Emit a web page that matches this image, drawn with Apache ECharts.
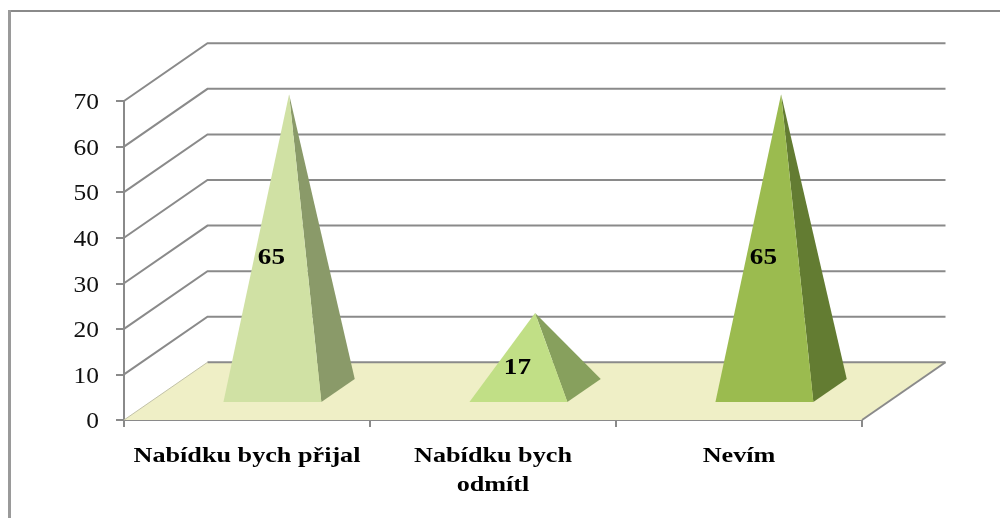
<!DOCTYPE html>
<html>
<head>
<meta charset="utf-8">
<style>html,body{margin:0;padding:0;background:#fff}#c{width:1000px;height:518px;filter:blur(0.6px)}</style>
<script src="https://cdn.jsdelivr.net/npm/echarts@6/dist/echarts.min.js"></script>
</head>
<body>
<div id="c"></div>
<script>
const categories = ['Nabídku bych přijal', 'Nabídku bych\nodmítl', 'Nevím'];
const values = [65, 17, 65];
const frontColors = ['#d0e1a4', '#c1df86', '#9bbb4f'];
const sideColors = ['#8a9a69', '#87a05d', '#637c32'];
const yTicks = [0, 10, 20, 30, 40, 50, 60, 70];

const DEPTH_X = 83.5, DEPTH_Y = -57.7;
const GRID_COLOR = '#8a8a8a', FLOOR_COLOR = '#efefc6';
const BAND_RATIO = 0.398, BASE_FRONT = 0.31, BASE_BACK = 0.71;
const SERIF = '"Liberation Serif", "Times New Roman", serif';

const chart = echarts.init(document.getElementById('c'));

function renderWall(params, api) {
  const v = api.value(0);
  const cs = params.coordSys;
  const y = api.coord([0, v])[1];
  const x0 = cs.x, x1 = cs.x + cs.width;
  const children = [];
  if (v === 0) {
    children.push({
      type: 'polygon',
      shape: { points: [[x0, y], [x1, y], [x1 + DEPTH_X, y + DEPTH_Y], [x0 + DEPTH_X, y + DEPTH_Y]] },
      style: { fill: FLOOR_COLOR }
    });
    children.push({
      type: 'line',
      shape: { x1: x1, y1: y, x2: x1 + DEPTH_X, y2: y + DEPTH_Y },
      style: { stroke: GRID_COLOR, lineWidth: 2 }
    });
    children.push({
      type: 'line',
      shape: { x1: x0, y1: y, x2: x0 + DEPTH_X, y2: y + DEPTH_Y },
      style: { stroke: '#c2c2a8', lineWidth: 1 }
    });
  }
  children.push({
    type: 'polyline',
    shape: { points: v === 0
      ? [[x0 + DEPTH_X, y + DEPTH_Y], [x1 + DEPTH_X, y + DEPTH_Y]]
      : [[x0, y], [x0 + DEPTH_X, y + DEPTH_Y], [x1 + DEPTH_X, y + DEPTH_Y]] },
    style: { stroke: GRID_COLOR, lineWidth: 2, fill: null }
  });
  return { type: 'group', children };
}

function renderPyramid(params, api) {
  const i = api.value(0), v = api.value(1);
  const band = api.size([1, 0])[0];
  const cx = api.coord([i, 0])[0];
  const y0 = api.coord([i, 0])[1];
  const yTop = api.coord([i, v])[1];
  const half = band * BAND_RATIO / 2;
  const fx = cx + DEPTH_X * BASE_FRONT - 0.5, fy = y0 + DEPTH_Y * BASE_FRONT;
  const bx = cx + DEPTH_X * BASE_BACK - 0.5, by = y0 + DEPTH_Y * BASE_BACK;
  const mid = (BASE_FRONT + BASE_BACK) / 2;
  const apex = [cx + DEPTH_X * mid - 0.5, yTop + DEPTH_Y * mid];
  const FL = [fx - half, fy], FR = [fx + half, fy], BR = [bx + half, by];
  return {
    type: 'group',
    children: [
      { type: 'polygon', shape: { points: [FR, BR, apex] }, style: { fill: sideColors[i] } },
      { type: 'polygon', shape: { points: [FL, FR, apex] }, style: { fill: frontColors[i] } },
      {
        type: 'text',
        x: fx - 1, y: fy + (yTop - y0) / 2 + 4, scaleX: 1.13,
        style: {
          text: String(v), align: 'center', verticalAlign: 'middle',
          font: 'bold 24px ' + SERIF, fill: '#000'
        }
      }
    ]
  };
}

function renderCategoryLabel(params, api) {
  const i = api.value(0);
  const p = api.coord([i, 0]);
  return {
    type: 'text',
    x: p[0], y: p[1] + 22, scaleX: 1.19,
    style: {
      text: categories[i], lineHeight: 29,
      align: 'center', verticalAlign: 'top',
      font: 'bold 22px ' + SERIF, fill: '#000'
    }
  };
}

function renderValueLabel(params, api) {
  const v = api.value(0);
  const y = api.coord([0, v])[1];
  return {
    type: 'text',
    x: params.coordSys.x - 25, y: y + 2, scaleX: 1.06,
    style: {
      text: String(v), align: 'right', verticalAlign: 'middle',
      font: '24px ' + SERIF, fill: '#111'
    }
  };
}

chart.setOption({
  animation: false,
  backgroundColor: '#fff',
  graphic: [
    { type: 'rect', shape: { x: 8, y: 10, width: 992, height: 2 }, style: { fill: '#8a8a8a' } },
    { type: 'rect', shape: { x: 8, y: 10, width: 3, height: 508 }, style: { fill: '#9a9a9a' } }
  ],
  grid: { left: 124, right: 138, top: 101, bottom: 98 },
  xAxis: {
    type: 'category',
    data: categories,
    axisLine: { lineStyle: { color: GRID_COLOR, width: 2 } },
    axisTick: { show: true, alignWithLabel: false, length: 7, lineStyle: { color: GRID_COLOR, width: 2 } },
    axisLabel: { show: false }
  },
  yAxis: {
    type: 'value', min: 0, max: 70, interval: 10,
    splitLine: { show: false },
    axisLine: { show: true, lineStyle: { color: GRID_COLOR, width: 2 } },
    axisTick: { show: true, length: 8, lineStyle: { color: GRID_COLOR, width: 2 } },
    axisLabel: { show: false }
  },
  series: [
    { type: 'custom', name: 'wall', coordinateSystem: 'cartesian2d', data: yTicks.map(t => [t]), encode: { y: 0 }, renderItem: renderWall, z: 1, silent: true },
    { type: 'custom', name: 'pyramids', coordinateSystem: 'cartesian2d', data: values.map((v, i) => [i, v]), encode: { x: 0, y: 1 }, renderItem: renderPyramid, z: 3 },
    { type: 'custom', name: 'categoryLabels', coordinateSystem: 'cartesian2d', data: categories.map((c, i) => [i]), encode: { x: 0 }, renderItem: renderCategoryLabel, z: 4, silent: true, clip: false },
    { type: 'custom', name: 'valueLabels', coordinateSystem: 'cartesian2d', data: yTicks.map(t => [t]), encode: { y: 0 }, renderItem: renderValueLabel, z: 4, silent: true, clip: false }
  ]
});
</script>
</body>
</html>
